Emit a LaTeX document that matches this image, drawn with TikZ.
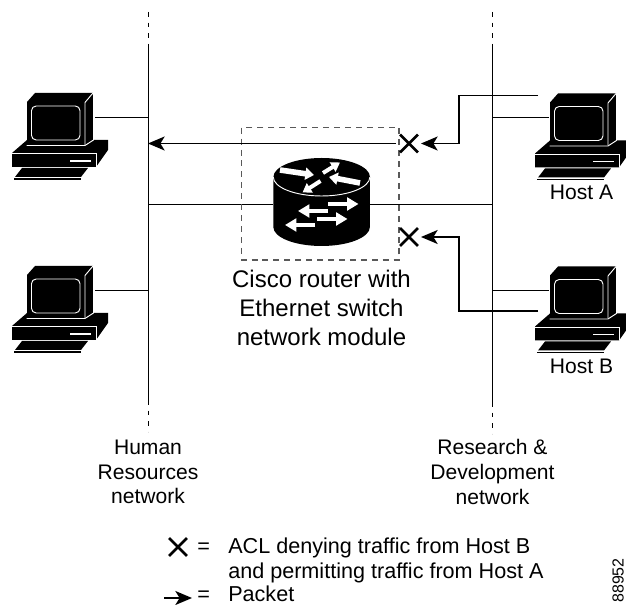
\documentclass[tikz,border=0pt]{standalone}
\usepackage{fontspec}
\setmainfont{Liberation Sans}
\usetikzlibrary{arrows.meta,shapes.misc}
\tikzset{
  link/.style={line width=0.95pt,black},
  busdash/.style={line width=0.95pt,black,dash pattern=on 3.6pt off 4.4pt},
  packet/.style={line width=1.1pt,black,-{Stealth[length=12.5pt,width=10.5pt,inset=3.2pt]}},
  boxdash/.style={line width=0.8pt,black!65,dash pattern=on 4.5pt off 3.7pt},
  denyx/.style={cross out,draw=black,line width=1.9pt,minimum size=11.5pt,inner sep=0pt},
  whitearrow/.style={line width=3.6pt,white,-{Triangle[length=8.5pt,width=9.5pt]}},
  whitesmall/.style={line width=3pt,white,-{Triangle[length=6.5pt,width=8pt]}},
  whitewide/.style={line width=4.2pt,white,-{Triangle[length=6.5pt,width=9pt]}},
  hl/.style={white,line width=0.7pt},
  lbl/.style={font=\fontsize{15.8}{18.4}\selectfont,align=center,inner sep=0pt},
  lblbig/.style={font=\fontsize{18}{21.75}\selectfont,align=center,inner sep=0pt},
  legend/.style={font=\fontsize{16.2}{18.4}\selectfont,anchor=base west,inner sep=0pt},
  pc/.pic={
    % base
    \fill[black] (12,153) -- (27,140) -- (108,140) -- (108,150) -- (96,167) -- (12,167) -- cycle;
    \draw[hl] (12,153.5) -- (96,153.5) -- (96,167);
    \draw[hl,line width=1.2pt] (70,161) -- (91,161);
    % monitor
    \fill[black] (27,102) -- (35,93) -- (93,93) -- (93,140) -- (85,145) -- (27,145) -- cycle;
    \draw[hl] (26.5,145.5) -- (85,145.5) -- (93.5,140) -- (93.5,93);
    \draw[hl] (85,145) -- (85,102.5) -- (93,93);
    \draw[hl,rounded corners=3.5pt] (31.5,106) rectangle (80,140);
    % keyboard
    \fill[black] (22,168) -- (88,168) -- (81,177) -- (15,177) -- cycle;
    \fill[black] (14,178.5) -- (81,178.5) -- (81,180) -- (14,180) -- cycle;
    \coordinate (-east) at (95,117.5);
    \coordinate (-west) at (25.5,117);
  }
}
\begin{document}
\begin{tikzpicture}[x=0.75pt,y=-0.75pt]
\useasboundingbox (0,0) rectangle (626,605);

% computers
\pic (hr1) at (0,0) {pc};
\pic (hr2) at (0,173) {pc};
\pic (hosta) at (523,0.5) {pc};
\pic (hostb) at (523,173.5) {pc};

% buses
\coordinate (lt) at (148.5,12);
\coordinate (ls) at (148.5,44);
\coordinate (le) at (148.5,400);
\coordinate (lb) at (148.5,432);
\coordinate (rt) at (492.5,12);
\coordinate (rs) at (492.5,44);
\coordinate (re) at (492.5,402);
\coordinate (rb) at (492.5,434);
\draw[busdash] (lt) -- (ls);
\draw[link] (ls) -- (le);
\draw[busdash] (le) -- (lb);
\draw[busdash] (rt) -- (rs);
\draw[link] (rs) -- (re);
\draw[busdash] (re) -- (rb);

% router
\node[minimum width=72.5pt,minimum height=63pt,inner sep=0pt] (router) at (321.6,204.5) {};
\draw[link] (router.west -| ls) -- (router.west);
\draw[link] (router.east) -- (router.east -| rs);
\fill[black] (273.3,177) -- (273.3,227) arc[start angle=180,end angle=0,x radius=48.3,y radius=19]
  -- (370,177) arc[start angle=0,end angle=-180,x radius=48.3,y radius=19] -- cycle;
\draw[hl] (273.3,177) arc[start angle=180,end angle=0,x radius=48.3,y radius=19];
\coordinate (r1a) at (280,170); \coordinate (r1b) at (314,175);
\coordinate (r2a) at (323,173); \coordinate (r2b) at (340,162.5);
\coordinate (r3a) at (360,183); \coordinate (r3b) at (329,177);
\coordinate (r4a) at (320.5,181); \coordinate (r4b) at (302.5,192.5);
\coordinate (r5a) at (328,204); \coordinate (r5b) at (358.5,204);
\coordinate (r6a) at (328,211); \coordinate (r6b) at (298,211);
\coordinate (r7a) at (317,219); \coordinate (r7b) at (347.5,219);
\coordinate (r8a) at (315,225); \coordinate (r8b) at (285,225);
\draw[whitewide] (r1a) -- (r1b);
\draw[whitesmall] (r2a) -- (r2b);
\draw[whitewide] (r3a) -- (r3b);
\draw[whitesmall] (r4a) -- (r4b);
\foreach \a in {5,...,8} \draw[whitearrow] (r\a a) -- (r\a b);

% dashed box
\draw[boxdash] (241.7,127.7) rectangle (399,260);

% host drop lines
\draw[link] (hr1-east) -- (hr1-east -| ls);
\draw[link] (hr2-east) -- (hr2-east -| ls);
\draw[link] (hosta-west) -- (hosta-west -| rs);
\draw[link] (hostb-west) -- (hostb-west -| rs);

% deny marks
\node[denyx] (xa) at (409,143.5) {};
\node[denyx] (xb) at (409,237) {};
\node[denyx] (xl) at (178,547) {};

% packets
\coordinate (mainfrom) at (396,143.5);
\coordinate (mainto) at (148,143.5);
\draw[packet] (mainfrom) -- (mainto);
\coordinate (asrc) at (538,95.7);
\coordinate (atip) at (421,143.5);
\draw[packet] (asrc) -- (459,95.7) -- (459,143.5) -- (atip);
\coordinate (bsrc) at (538,311);
\coordinate (btip) at (421,237);
\draw[packet] (bsrc) -- (459,311) -- (459,237) -- (btip);
\coordinate (lega) at (164,598);
\coordinate (legb) at (192,598);
\draw[packet] (lega) -- (legb);

% labels
\node[lbl,anchor=base] (la) at (581.5,200) {Host A};
\node[lbl,anchor=base] (lbb) at (581.5,374) {Host B};
\node[lblbig] (rl) at (321.5,308) {Cisco router with\\Ethernet switch\\network module};
\node[lbl] (hrl) at (148,472) {Human\\Resources\\network};
\node[lbl] (rdl) at (492.5,472) {Research \&\\Development\\network};
\node[legend] (eq1) at (197,554) {=};
\node[legend] (eq2) at (197,602) {=};
\node[legend] (t1) at (228,554) {ACL denying traffic from Host B};
\node[legend] (t2) at (228,578.5) {and permitting traffic from Host A};
\node[legend] (t3) at (228,602) {Packet};
\node[rotate=90,anchor=base west,inner sep=0pt,font=\fontsize{12}{14}\selectfont] (code) at (623.5,603) {88952};
\end{tikzpicture}
\end{document}
